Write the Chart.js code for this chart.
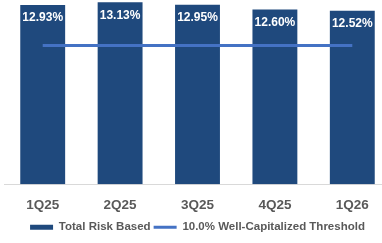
<!DOCTYPE html>
<html>
<head>
<meta charset="utf-8">
<script src="https://cdn.jsdelivr.net/npm/chart.js@4/dist/chart.umd.min.js"></script>
<style>
  html, body { margin: 0; padding: 0; background: #fff; overflow: hidden; }
  #wrap { width: 382px; height: 243px; overflow: hidden; }
  #box { width: 398px; height: 243px; }
</style>
</head>
<body>
<div id="wrap"><div id="box"><canvas id="capitalChart"></canvas></div></div>
<script>
const quarters = ["1Q25", "2Q25", "3Q25", "4Q25", "1Q26"];
const totalRiskBased = [12.93, 13.13, 12.95, 12.60, 12.52];
const threshold = [10.0, 10.0, 10.0, 10.0, 10.0];

// white % labels inside the top of each bar
const barLabels = {
    id: "barLabels",
    afterDatasetsDraw(chart) {
        const ctx = chart.ctx;
        const meta = chart.getDatasetMeta(0);
        ctx.save();
        ctx.fillStyle = "#ffffff";
        ctx.font = "bold 12px 'Liberation Sans', Arial, sans-serif";
        ctx.textAlign = "center";
        ctx.textBaseline = "middle";
        meta.data.forEach(function (bar, i) {
            ctx.fillText(totalRiskBased[i].toFixed(2) + "%", bar.x, bar.y + 13);
        });
        ctx.restore();
    }
};

const ctx = document.getElementById("capitalChart").getContext("2d");
new Chart(ctx, {
    type: "bar",
    data: {
        labels: quarters,
        datasets: [{
            label: "Total Risk Based",
            data: totalRiskBased,
            backgroundColor: "#1F497D",
            barPercentage: 0.58,
            categoryPercentage: 1,
            order: 2
        }, {
            type: "line",
            label: "10.0% Well-Capitalized Threshold",
            data: threshold,
            borderColor: "#4472C4",
            backgroundColor: "#4472C4",
            borderWidth: 3,
            pointRadius: 0,
            tension: 0,
            order: 1
        }]
    },
    options: {
        responsive: true,
        maintainAspectRatio: false,
        animation: false,
        layout: { padding: { left: 4, right: 7, top: 0, bottom: 0 } },
        scales: {
            x: {
                grid: { display: false },
                border: { display: true, color: "#D9D9D9", width: 1 },
                ticks: {
                    color: "#595959",
                    padding: 5,
                    font: { family: "'Liberation Sans', Arial, sans-serif", size: 13.5, weight: "bold" }
                }
            },
            y: {
                display: false,
                min: 0,
                max: 13.29
            }
        },
        plugins: {
            tooltip: { enabled: false },
            legend: {
                display: true,
                position: "bottom",
                labels: {
                    usePointStyle: true,
                    pointStyleWidth: 23,
                    boxHeight: 5,
                    padding: 3,
                    color: "#595959",
                    font: { family: "'Liberation Sans', Arial, sans-serif", size: 11.5, weight: "bold" },
                    sort: (a, b) => a.datasetIndex - b.datasetIndex,
                    generateLabels: function (chart) {
                        const items = Chart.defaults.plugins.legend.labels.generateLabels(chart);
                        items.forEach(function (it) {
                            if (it.datasetIndex === 0) {
                                it.pointStyle = "rect";
                                it.lineWidth = 0;
                            } else {
                                it.pointStyle = "line";
                                it.lineWidth = 3;
                            }
                        });
                        return items;
                    }
                }
            }
        }
    },
    plugins: [barLabels]
});
</script>
</body>
</html>
